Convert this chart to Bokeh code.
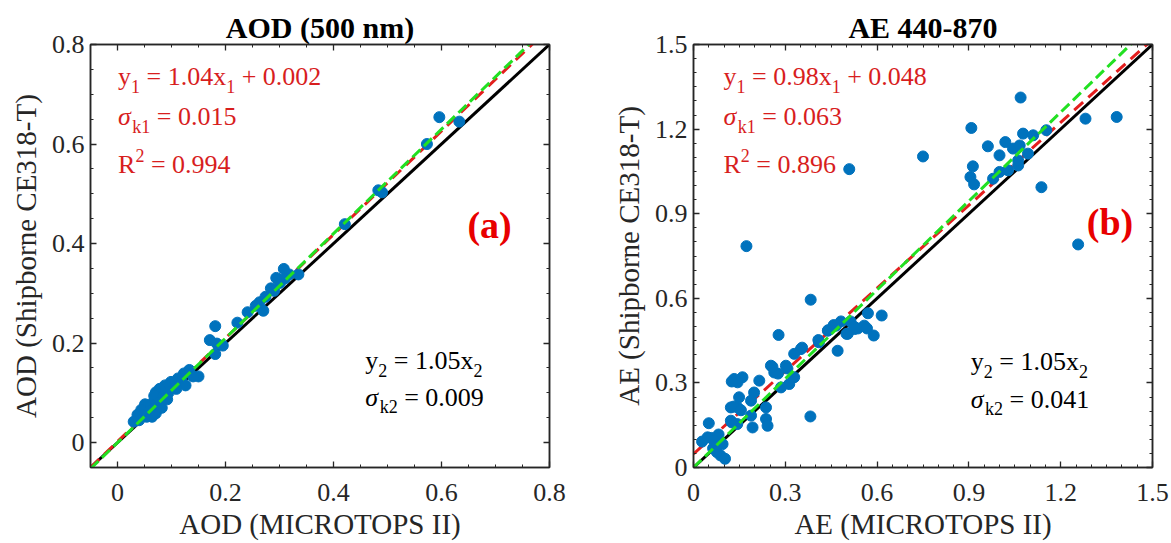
from bokeh.plotting import figure
from bokeh.layouts import row
from bokeh.models import Label, LinearAxis, FixedTicker, Range1d, CustomLabelingPolicy
from bokeh.embed import file_html
from bokeh.resources import INLINE

# ---------------- data ----------------
aod_x = [0.596, 0.633, 0.573, 0.483, 0.490, 0.421, 0.308, 0.294, 0.318, 0.335,
         0.301, 0.284, 0.263, 0.274, 0.270, 0.256, 0.241, 0.222, 0.181, 0.171,
         0.184, 0.195, 0.181, 0.150, 0.133, 0.123, 0.112, 0.099, 0.106, 0.088,
         0.078, 0.071, 0.068, 0.085, 0.075, 0.061, 0.051, 0.044, 0.058, 0.071,
         0.082, 0.037, 0.054, 0.030, 0.040, 0.095, 0.119, 0.126, 0.140, 0.109,
         0.092, 0.064, 0.310, 0.290]
aod_y = [0.654, 0.645, 0.600, 0.507, 0.503, 0.439, 0.349, 0.331, 0.338, 0.338,
         0.321, 0.310, 0.282, 0.293, 0.265, 0.275, 0.262, 0.241, 0.234, 0.206,
         0.199, 0.195, 0.178, 0.133, 0.146, 0.139, 0.129, 0.122, 0.112, 0.115,
         0.108, 0.101, 0.094, 0.094, 0.080, 0.077, 0.077, 0.066, 0.063, 0.059,
         0.070, 0.056, 0.052, 0.042, 0.045, 0.101, 0.122, 0.115, 0.133, 0.108,
         0.087, 0.052, 0.330, 0.305]

ae_x = [1.069, 1.281, 1.383, 0.908, 0.750, 1.077, 1.110, 1.153, 1.019, 0.962,
        1.044, 1.066, 1.000, 1.093, 0.913, 0.905, 0.917, 0.979, 1.000, 1.028,
        1.061, 1.061, 1.137, 1.257, 0.509, 0.173,
        0.383, 0.570, 0.615, 0.558, 0.526, 0.589, 0.504, 0.466, 0.439, 0.471,
        0.408, 0.513, 0.537, 0.482, 0.278, 0.351, 0.329, 0.355, 0.253, 0.302,
        0.264, 0.329, 0.286, 0.313, 0.276, 0.307, 0.215, 0.133, 0.160, 0.144,
        0.125, 0.149, 0.122, 0.144, 0.198, 0.188, 0.193, 0.188, 0.237, 0.237,
        0.242, 0.382, 0.131, 0.155, 0.143, 0.125, 0.050, 0.028, 0.058, 0.082,
        0.064, 0.088, 0.103, 0.076, 0.046, 0.067, 0.095, 0.122, 0.258, 0.410,
        0.440, 0.458, 0.500, 0.525, 0.567]
ae_y = [1.312, 1.237, 1.243, 1.204, 1.103, 1.184, 1.178, 1.196, 1.154, 1.139,
        1.131, 1.142, 1.107, 1.113, 1.068, 1.030, 1.004, 1.024, 1.048, 1.054,
        1.071, 1.089, 0.994, 0.791, 1.058, 0.785,
        0.595, 0.547, 0.539, 0.503, 0.491, 0.468, 0.474, 0.503, 0.485, 0.414,
        0.452, 0.518, 0.493, 0.518, 0.470, 0.420, 0.403, 0.425, 0.361, 0.361,
        0.337, 0.320, 0.284, 0.296, 0.333, 0.351, 0.308, 0.314, 0.320, 0.302,
        0.305, 0.249, 0.213, 0.213, 0.266, 0.237, 0.142, 0.184, 0.213, 0.172,
        0.148, 0.181, 0.216, 0.203, 0.154, 0.160, 0.157, 0.092, 0.105, 0.117,
        0.068, 0.043, 0.031, 0.055, 0.107, 0.095, 0.083, 0.166, 0.357, 0.444,
        0.487, 0.505, 0.474, 0.499, 0.493]

aod_ticks = [0, 0.2, 0.4, 0.6, 0.8]
aod_tick_labels = ["0", "0.2", "0.4", "0.6", "0.8"]
ae_ticks = [0, 0.3, 0.6, 0.9, 1.2, 1.5]
ae_tick_labels = ["0", "0.3", "0.6", "0.9", "1.2", "1.5"]

# fits: (slope, intercept)
aod_fit1 = (1.04, 0.002)
aod_fit2 = (1.05, 0.0)
aod_stats = ["1.04", "0.002", "0.015", "0.994", "1.05", "0.009"]
ae_fit1 = (0.98, 0.048)
ae_fit2 = (1.05, 0.0)
ae_stats = ["0.98", "0.048", "0.063", "0.896", "1.05", "0.041"]

FONT = "Liberation Serif"
BLUE = "#0072BD"
RED_TXT = "#d81e1e"
RED_LINE = "#e41e1e"
GREEN = "#22e022"
INK = "#262626"

W = {' ': 0.25, '.': 0.25, '=': 0.564, '+': 0.564, 'y': 0.5, 'x': 0.5,
     'R': 0.667, 'k': 0.5, 'σ': 0.55}


def tw(s):
    return sum(W.get(c, 0.5) for c in s)


def rich(p, x, y, parts, color, lift=9):
    off = 0.0
    for txt, kind in parts:
        size = 26 if kind in ("n", "i") else 18
        dy = {"n": 0, "i": 0, "sub": -10, "sup": 9}[kind] + lift
        core = txt.strip(" ")
        lead = len(txt) - len(txt.lstrip(" "))
        p.add_layout(Label(x=x, y=y, x_offset=off + lead * W[" "] * size,
                           y_offset=dy, text=core,
                           text_font=FONT, text_font_size=f"{size}px",
                           text_color=color,
                           text_font_style="italic" if kind == "i" else "normal",
                           text_baseline="alphabetic", text_align="left"))
        off += tw(txt) * size


def panel(title, xlab, ylab, lo, hi, ticks, labels, minor_step, xs, ys, fit1, fit2,
          stats, tpos, tag, tagpos, bl, br):
    p = figure(frame_width=459, frame_height=423, min_border_left=bl,
               min_border_right=br, min_border_top=44, min_border_bottom=76,
               x_range=Range1d(lo, hi), y_range=Range1d(lo, hi),
               output_backend="svg", toolbar_location=None,
               x_axis_type=None, y_axis_type=None)
    p.title.text = title
    p.title.text_font = FONT
    p.title.text_font_size = "30px"
    p.title.text_font_style = "bold"
    p.title.text_color = "black"
    p.title.align = "center"
    p.title.standoff = 2
    p.grid.visible = False
    p.outline_line_color = INK
    p.outline_line_width = 1.5
    p.background_fill_color = "white"
    p.border_fill_color = "white"

    n = int(round((hi - lo) / minor_step))
    minors = [round(lo + minor_step * i, 4) for i in range(n + 1)]
    ticker = FixedTicker(ticks=ticks, minor_ticks=minors)
    overrides = {t: l for t, l in zip(ticks, labels)}

    for loc in ("below", "left", "above", "right"):
        ax = LinearAxis(ticker=ticker)
        ax.major_tick_in = 6
        ax.major_tick_out = 0
        ax.minor_tick_in = 3
        ax.minor_tick_out = 0
        ax.axis_line_color = INK
        ax.axis_line_width = 1.5
        ax.major_tick_line_color = INK
        ax.minor_tick_line_color = INK
        ax.major_tick_line_width = 1.3
        ax.minor_tick_line_width = 1.0
        if loc in ("below", "left"):
            ax.major_label_overrides = overrides
            ax.major_label_text_font = FONT
            ax.major_label_text_font_size = "26px"
            ax.major_label_text_color = INK
            ax.major_label_text_line_height = 1.0
            ax.axis_label = xlab if loc == "below" else ylab
            ax.axis_label_text_font = FONT
            ax.axis_label_text_font_size = "29px"
            ax.axis_label_text_font_style = "normal"
            ax.axis_label_text_color = INK
            ax.axis_label_text_line_height = 1.0
            ax.major_label_standoff = 16 if loc == "below" else 6
            ax.axis_label_standoff = 4 if loc == "below" else 7
        else:
            ax.major_label_policy = CustomLabelingPolicy(code="return []")
            ax.major_label_text_font_size = "0px"
            ax.major_label_standoff = 0
        p.add_layout(ax, loc)

    # reference lines
    p.line([lo, hi], [lo, hi], line_color="black", line_width=3)
    a1, b1 = fit1
    p.line([lo, hi], [a1 * lo + b1, a1 * hi + b1], line_color=RED_LINE,
           line_width=3, line_dash="12 7")
    p.scatter(xs, ys, size=11, fill_color=BLUE, line_color=BLUE, marker="circle")
    a2, b2 = fit2
    p.line([lo, hi], [a2 * lo + b2, a2 * hi + b2], line_color=GREEN,
           line_width=3, line_dash="11 5")

    s = stats
    (rx, ry1, ry2, ry3), (kx, ky1, ky2) = tpos
    rich(p, rx, ry1, [("y", "n"), ("1", "sub"), (f" = {s[0]}x", "n"), ("1", "sub"),
                      (f" + {s[1]}", "n")], RED_TXT)
    rich(p, rx, ry2, [("σ", "i"), ("k1", "sub"), (f" = {s[2]}", "n")], RED_TXT)
    rich(p, rx, ry3, [("R", "n"), ("2", "sup"), (f" = {s[3]}", "n")], RED_TXT)
    rich(p, kx, ky1, [("y", "n"), ("2", "sub"), (f" = {s[4]}x", "n"), ("2", "sub")], "black")
    rich(p, kx, ky2, [("σ", "i"), ("k2", "sub"), (f" = {s[5]}", "n")], "black")

    p.add_layout(Label(x=tagpos[0], y=tagpos[1], text=tag, text_font=FONT,
                       text_font_size="38px", text_font_style="bold",
                       text_color="#e80000", text_align="center",
                       text_baseline="middle"))
    return p


p1 = panel("AOD (500 nm)", "AOD (MICROTOPS II)", "AOD (Shipborne CE318-T)",
           -0.05, 0.8, aod_ticks, aod_tick_labels, 0.05, aod_x, aod_y,
           aod_fit1, aod_fit2, aod_stats,
           ((0.001, 0.718, 0.637, 0.541), (0.459, 0.146, 0.073)),
           "(a)", (0.689, 0.437), 90, 51)
p2 = panel("AE 440-870", "AE (MICROTOPS II)", "AE (Shipborne CE318-T)",
           0.0, 1.5, ae_ticks, ae_tick_labels, 0.05, ae_x, ae_y,
           ae_fit1, ae_fit2, ae_stats,
           ((0.098, 1.356, 1.212, 1.042), (0.906, 0.345, 0.210)),
           "(b)", (1.361, 0.871), 93, 20)

layout = row(p1, p2)
open("out.html", "w").write(file_html(layout, INLINE))
